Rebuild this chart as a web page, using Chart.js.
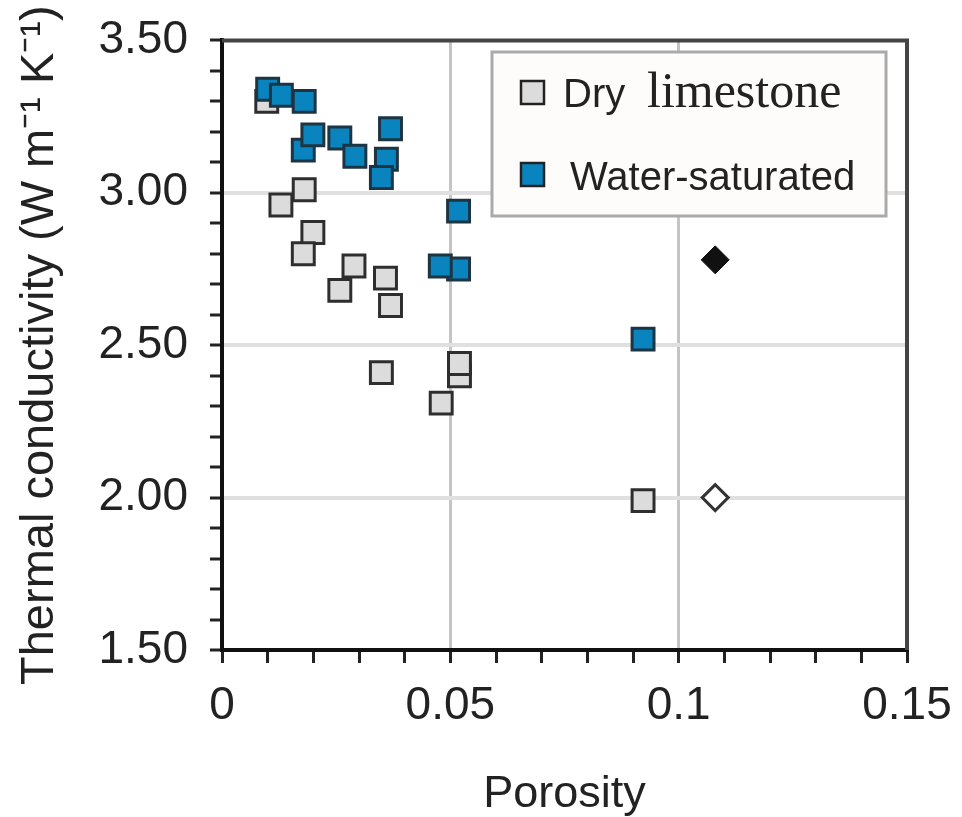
<!DOCTYPE html>
<html>
<head>
<meta charset="utf-8">
<script src="https://cdn.jsdelivr.net/npm/chart.js@4.4.1/dist/chart.umd.min.js"></script>
<style>
  body { margin: 0; background: #fff; }
  #wrap { width: 962px; height: 817px; }
</style>
</head>
<body>
<div id="wrap"><canvas id="porosityChart" width="962" height="817"></canvas></div>
<script>
// Datos
var dryPorosity = [0.0098, 0.0180, 0.0129, 0.0199, 0.0178, 0.0289, 0.0258, 0.0358, 0.0369, 0.0349, 0.0520, 0.0520, 0.0480, 0.0922];
var dryConductivity = [3.30, 3.01, 2.96, 2.87, 2.80, 2.76, 2.68, 2.72, 2.63, 2.41, 2.40, 2.44, 2.31, 1.99];
var wetPorosity = [0.0100, 0.0130, 0.0180, 0.0178, 0.0199, 0.0258, 0.0291, 0.0369, 0.0360, 0.0349, 0.0518, 0.0518, 0.0478, 0.0922];
var wetConductivity = [3.34, 3.32, 3.30, 3.14, 3.19, 3.18, 3.12, 3.21, 3.11, 3.05, 2.94, 2.75, 2.76, 2.52];
var filledDiamondPorosity = [0.108];
var filledDiamondConductivity = [2.78];
var openDiamondPorosity = [0.108];
var openDiamondConductivity = [2.00];
var legendLabels = ['Dry', 'limestone', 'Water-saturated'];
var xTitle = 'Porosity';
var yTitle = 'Thermal conductivity (W m\u207B\u00B9 K\u207B\u00B9)';

var dryColor = '#dcdcdc';
var wetColor = '#0a84bf';
var fontSans = '"Liberation Sans", Arial, sans-serif';

function toPoints(xs, ys) {
    var pts = [];
    for (var i = 0; i < xs.length; i++) {
        pts.push({ x: xs[i], y: ys[i] });
    }
    return pts;
}

function isMultiple(v, step) {
    var r = v / step;
    return Math.abs(r - Math.round(r)) < 1e-6;
}

// Marco superior y derecho + leyenda dentro del area
var framePlugin = {
    id: 'frameLegend',
    afterDraw: function (chart) {
        var ctx = chart.ctx;
        var a = chart.chartArea;
        ctx.save();
        ctx.strokeStyle = '#444';
        ctx.lineWidth = 4;
        ctx.beginPath();
        ctx.moveTo(a.left, a.top);
        ctx.lineTo(a.right, a.top);
        ctx.lineTo(a.right, a.bottom);
        ctx.stroke();

        // leyenda
        ctx.fillStyle = '#fdfcfa';
        ctx.fillRect(492, 52, 394, 164);
        ctx.strokeStyle = '#aaa';
        ctx.lineWidth = 3;
        ctx.strokeRect(492, 52, 394, 164);

        ctx.lineWidth = 2.5;
        ctx.strokeStyle = '#222';
        ctx.fillStyle = dryColor;
        ctx.fillRect(521, 81, 23, 23);
        ctx.strokeRect(521, 81, 23, 23);
        ctx.fillStyle = wetColor;
        ctx.fillRect(521, 163, 23, 23);
        ctx.strokeRect(521, 163, 23, 23);

        ctx.fillStyle = '#222';
        ctx.textBaseline = 'alphabetic';
        ctx.textAlign = 'left';
        ctx.font = '40px ' + fontSans;
        ctx.fillText(legendLabels[0], 563, 107);
        ctx.fillText(legendLabels[2], 570, 190);
        ctx.font = '50px "Liberation Serif", "Times New Roman", serif';
        ctx.fillText(legendLabels[1], 647, 107);
        ctx.restore();
    }
};

var config = {
    type: 'scatter',
    data: {
        datasets: [{
            label: 'Water-saturated',
            data: toPoints(wetPorosity, wetConductivity),
            backgroundColor: wetColor,
            borderColor: '#1d3442',
            borderWidth: 3,
            pointStyle: 'rect',
            pointRadius: 15.5,
            pointHoverRadius: 15.5
        }, {
            label: 'Dry limestone',
            data: toPoints(dryPorosity, dryConductivity),
            backgroundColor: dryColor,
            borderColor: '#2e2e2e',
            borderWidth: 3,
            pointStyle: 'rect',
            pointRadius: 15.5,
            pointHoverRadius: 15.5
        }, {
            label: 'filled',
            data: toPoints(filledDiamondPorosity, filledDiamondConductivity),
            backgroundColor: '#111',
            borderColor: '#111',
            borderWidth: 1,
            pointStyle: 'rectRot',
            pointRadius: 14
        }, {
            label: 'open',
            data: toPoints(openDiamondPorosity, openDiamondConductivity),
            backgroundColor: '#fff',
            borderColor: '#333',
            borderWidth: 3,
            pointStyle: 'rectRot',
            pointRadius: 13
        }]
    },
    options: {
        responsive: false,
        animation: false,
        layout: { padding: { left: 0, right: 55, top: 37, bottom: 0 } },
        plugins: {
            legend: { display: false },
            tooltip: { enabled: false }
        },
        scales: {
            x: {
                type: 'linear',
                min: 0,
                max: 0.15,
                afterFit: function (scale) {
                    scale.height = 167;
                    scale.paddingRight = 0;
                    scale.paddingLeft = 0;
                },
                border: { color: '#111', width: 4 },
                grid: {
                    color: function (c) {
                        var v = c.tick ? c.tick.value : 0;
                        return (isMultiple(v, 0.05) && v > 0.001 && v < 0.149) ? '#c4c4c4' : 'rgba(0,0,0,0)';
                    },
                    lineWidth: 3,
                    tickColor: '#222',
                    tickWidth: 3,
                    tickLength: 13
                },
                ticks: {
                    stepSize: 0.01,
                    autoSkip: false,
                    maxRotation: 0,
                    padding: 16,
                    color: '#222',
                    font: { family: fontSans, size: 46 },
                    callback: function (v) {
                        if (!isMultiple(v, 0.05)) return '';
                        return String(Math.round(v * 100) / 100);
                    }
                },
                title: {
                    display: true,
                    text: xTitle,
                    color: '#222',
                    padding: 0,
                    font: { family: fontSans, size: 45, lineHeight: 1.0 }
                }
            },
            y: {
                type: 'linear',
                min: 1.5,
                max: 3.5,
                afterFit: function (scale) { scale.width = 222; },
                border: { color: '#111', width: 4 },
                grid: {
                    color: function (c) {
                        var v = c.tick ? c.tick.value : 0;
                        return (isMultiple(v, 0.5) && v > 1.55 && v < 3.45) ? '#e0e0e0' : 'rgba(0,0,0,0)';
                    },
                    lineWidth: 4,
                    tickColor: '#222',
                    tickWidth: 3,
                    tickLength: 12
                },
                ticks: {
                    stepSize: 0.1,
                    autoSkip: false,
                    padding: 22,
                    color: '#222',
                    font: { family: fontSans, size: 46, lineHeight: 0.8 },
                    callback: function (v) {
                        if (!isMultiple(v, 0.5)) return '';
                        return v.toFixed(2);
                    }
                },
                title: {
                    display: true,
                    text: yTitle,
                    color: '#222',
                    padding: { top: 12, bottom: 0 },
                    font: { family: fontSans, size: 47 }
                }
            }
        }
    },
    plugins: [framePlugin]
};

var chartCtx = document.getElementById('porosityChart');
window.myScatter = new Chart(chartCtx, config);
</script>
</body>
</html>
